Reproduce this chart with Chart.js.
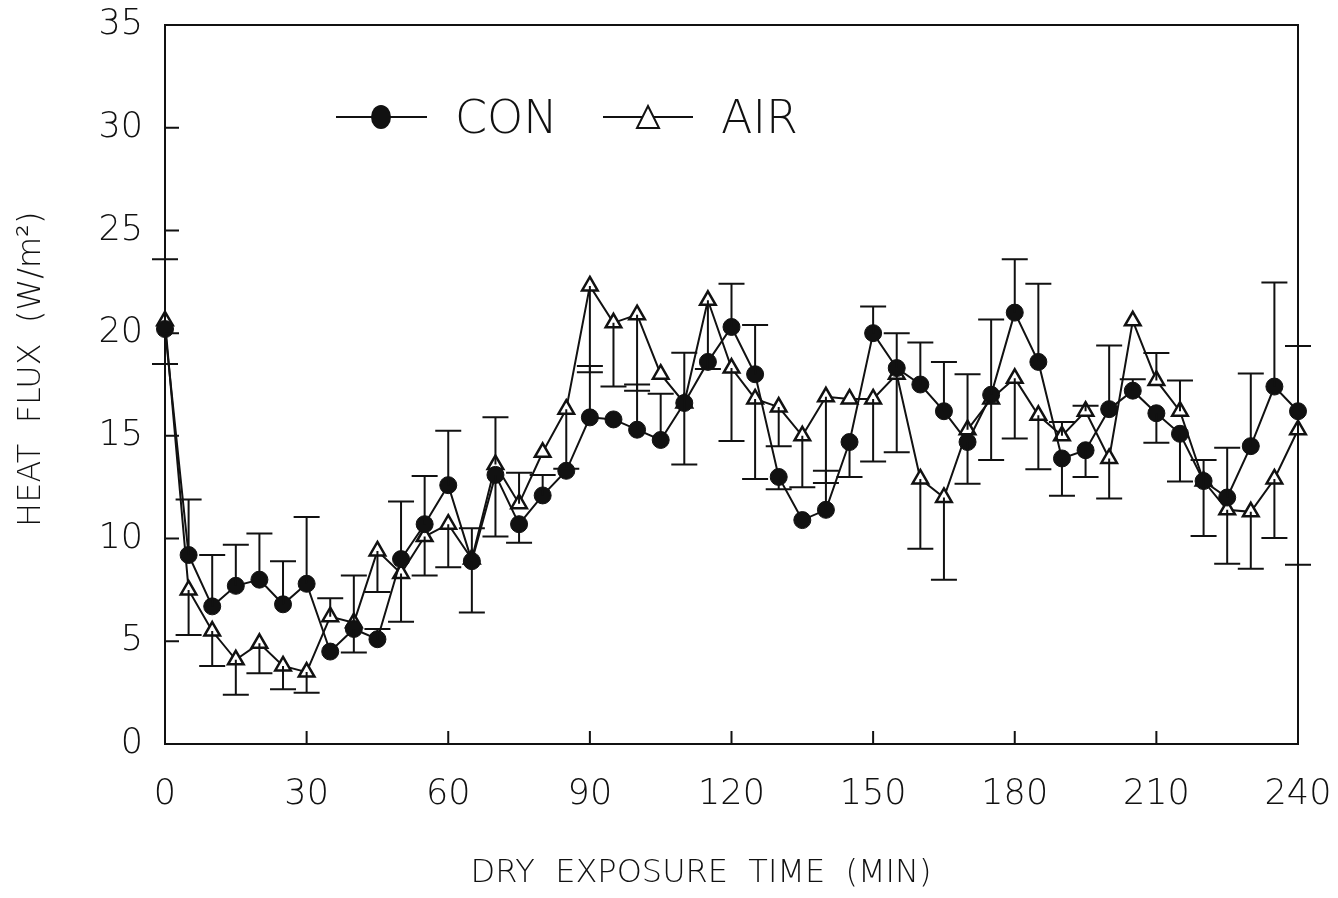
<!DOCTYPE html>
<html lang="en">
<head>
<meta charset="UTF-8">
<title>Heat flux vs dry exposure time</title>
<script src="https://cdn.jsdelivr.net/npm/chart.js"></script>
<style>
    html, body { margin: 0; padding: 0; background: #fff; }
    #wrap { width: 1338px; height: 898px; }
</style>
</head>
<body>
<div id="wrap"><canvas id="flux"></canvas></div>
<script>
// dry exposure time (min)
const times = [0, 5, 10, 15, 20, 25, 30, 35, 40, 45, 50, 55, 60, 65, 70, 75, 80, 85, 90, 95, 100, 105, 110, 115, 120,
               125, 130, 135, 140, 145, 150, 155, 160, 165, 170, 175, 180, 185, 190, 195, 200, 205, 210, 215, 220, 225, 230, 235, 240];

// heat flux (W/m2)
const con = [20.2, 9.2, 6.7, 7.7, 8.0, 6.8, 7.8, 4.5, 5.6, 5.1, 9.0, 10.7, 12.6, 8.9, 13.1, 10.7, 12.1, 13.3, 15.9, 15.8, 15.3, 14.8, 16.6, 18.6, 20.3,
             18.0, 13.0, 10.9, 11.4, 14.7, 20.0, 18.3, 17.5, 16.2, 14.7, 17.0, 21.0, 18.6, 13.9, 14.3, 16.3, 17.2, 16.1, 15.1, 12.8, 12.0, 14.5, 17.4, 16.2];
const air = [20.6, 7.5, 5.5, 4.1, 4.9, 3.8, 3.5, 6.2, 5.9, 9.4, 8.3, 10.1, 10.7, 9.0, 13.6, 11.7, 14.2, 16.3, 22.3, 20.5, 20.9, 18.0, 16.6, 21.6, 18.3,
             16.8, 16.4, 15.0, 16.9, 16.8, 16.8, 18.0, 12.9, 12.0, 15.3, 16.8, 17.8, 16.0, 15.0, 16.2, 13.9, 20.6, 17.7, 16.2, 12.8, 11.4, 11.3, 12.9, 15.3];

// where each one-sided error bar ends (null = no bar)
const conBar = [18.5, 11.9, 9.2, 9.7, 10.25, 8.9, 11.05, null, 4.45, 5.6, 11.8, 13.05, 15.25, 6.4, 10.1, 9.8, 13.1, null, 18.4, null, 17.5, 17.05, 19.05, null, 22.4,
                20.4, 12.4, null, 13.3, 13.0, 21.3, 20.0, 19.55, 18.6, 12.67, 20.67, 23.6, 22.4, 12.08, 13.0, 19.4, 17.75, 14.67, 12.78, 13.83, 14.42, 18.03, 22.47, 19.38];
const airBar = [23.6, 5.3, 3.8, 2.4, 3.45, 2.67, 2.5, 7.1, 8.2, 7.4, 5.95, 8.2, 8.6, 10.5, 15.9, 13.2, null, 13.4, 18.1, 17.4, 17.2, null, 13.6, 18.25, 14.75,
                12.9, 14.5, 12.5, 12.7, null, 13.75, 14.2, 9.5, 8.0, 18.0, 13.83, 14.87, 13.37, 15.67, 16.47, 11.95, null, 19.03, 17.7, 10.13, 8.78, 8.53, 10.03, 8.72];

const xTicks = [0, 30, 60, 90, 120, 150, 180, 210, 240];
const yTicks = [0, 5, 10, 15, 20, 25, 30, 35];

const FONT = '"DejaVu Sans", sans-serif';
const INK = '#111';

function pts(ys) { return times.map((t, i) => ({ x: t, y: ys[i] })); }

// one-sided error bars with caps
const errorBars = {
    id: 'errorBars',
    afterDatasetsDraw(chart) {
        const { ctx, scales: { x, y } } = chart;
        ctx.save();
        ctx.strokeStyle = INK;
        ctx.lineWidth = 2;
        chart.data.datasets.forEach(ds => {
            ds.data.forEach((p, i) => {
                const end = ds.bars[i];
                if (end == null) return;
                const px = x.getPixelForValue(p.x);
                const y0 = y.getPixelForValue(p.y);
                const y1 = y.getPixelForValue(end);
                ctx.beginPath();
                ctx.moveTo(px, y0); ctx.lineTo(px, y1);
                ctx.moveTo(px - 13, y1); ctx.lineTo(px + 13, y1);
                ctx.stroke();
            });
        });
        ctx.restore();
    }
};

// frame, inward ticks and the in-plot legend
const frame = {
    id: 'frame',
    afterDraw(chart) {
        const { ctx, chartArea: a, scales: { x, y } } = chart;
        ctx.save();
        ctx.strokeStyle = INK;
        ctx.lineWidth = 2;
        ctx.strokeRect(a.left, a.top, a.right - a.left, a.bottom - a.top);
        ctx.beginPath();
        xTicks.slice(1, -1).forEach(v => {
            const px = x.getPixelForValue(v);
            ctx.moveTo(px, a.bottom); ctx.lineTo(px, a.bottom - 13);
        });
        yTicks.slice(1, -1).forEach(v => {
            const py = y.getPixelForValue(v);
            ctx.moveTo(a.left, py); ctx.lineTo(a.left + 14, py);
        });
        ctx.stroke();

        // legend
        const ly = 117;
        ctx.lineWidth = 2;
        ctx.beginPath();
        ctx.moveTo(336, ly); ctx.lineTo(427, ly);
        ctx.moveTo(603, ly); ctx.lineTo(693, ly);
        ctx.stroke();
        ctx.fillStyle = INK;
        ctx.beginPath();
        ctx.ellipse(381, ly, 10, 12, 0, 0, Math.PI * 2);
        ctx.fill();
        ctx.fillStyle = '#fff';
        ctx.beginPath();
        ctx.moveTo(648, ly - 11); ctx.lineTo(659, ly + 11); ctx.lineTo(637, ly + 11); ctx.closePath();
        ctx.fill(); ctx.stroke();
        ctx.fillStyle = INK;
        ctx.font = '200 46px ' + FONT;
        ctx.textBaseline = 'middle';
        ctx.textAlign = 'left';
        ctx.fillText(chart.data.datasets[0].label, 455, ly + 4);
        ctx.fillText(chart.data.datasets[1].label, 721, ly + 4);
        ctx.restore();
    }
};

function noOverhang(s) {
    s.paddingLeft = 0; s.paddingRight = 0; s.paddingTop = 0; s.paddingBottom = 0;
}

new Chart(document.getElementById('flux'), {
    type: 'line',
    data: {
        datasets: [
            {
                label: 'CON', data: pts(con), bars: conBar,
                borderColor: INK, borderWidth: 2, backgroundColor: INK,
                pointStyle: 'circle', pointRadius: 8.5, pointBorderWidth: 1,
                pointBackgroundColor: INK, pointBorderColor: INK, tension: 0, clip: false, order: 0
            },
            {
                label: 'AIR', data: pts(air), bars: airBar,
                borderColor: INK, borderWidth: 2, backgroundColor: '#fff',
                pointStyle: 'triangle', pointRadius: 9, pointBorderWidth: 2.5,
                pointBackgroundColor: '#fff', pointBorderColor: INK, tension: 0, clip: false, order: 1
            }
        ]
    },
    options: {
        responsive: true,
        maintainAspectRatio: false,
        animation: false,
        layout: { padding: { top: 25, right: 40, left: 0, bottom: 0 } },
        plugins: { legend: { display: false }, tooltip: { enabled: false } },
        scales: {
            x: {
                type: 'linear', min: 0, max: 240,
                afterBuildTicks: s => { s.ticks = xTicks.map(v => ({ value: v })); },
                afterFit: s => { s.height = 154; noOverhang(s); },
                grid: { display: false, drawTicks: false, tickLength: 0 },
                border: { display: false },
                ticks: { color: INK, padding: 30, maxRotation: 0, font: { family: FONT, size: 35, weight: 200 } },
                title: {
                    display: true, text: 'DRY  EXPOSURE  TIME  (MIN)      ', color: INK,
                    font: { family: FONT, size: 32, weight: 200 }, padding: { top: 0, bottom: 5 }
                }
            },
            y: {
                min: 0, max: 35,
                afterBuildTicks: s => { s.ticks = yTicks.map(v => ({ value: v })); },
                afterFit: s => { s.width = 165; noOverhang(s); },
                grid: { display: false, drawTicks: false, tickLength: 0 },
                border: { display: false },
                ticks: { color: INK, padding: 22, font: { family: FONT, size: 35, weight: 200 } },
                title: {
                    display: true, text: '   HEAT  FLUX  (W/m²)', color: INK,
                    font: { family: FONT, size: 32, weight: 200 }, padding: { top: 12, bottom: 0 }
                }
            }
        }
    },
    plugins: [errorBars, frame]
});
</script>
</body>
</html>
